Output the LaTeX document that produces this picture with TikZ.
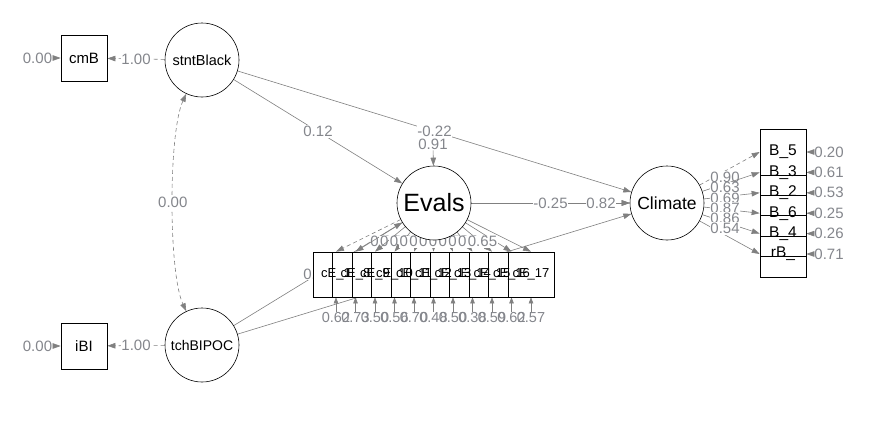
\documentclass[tikz,border=0pt]{standalone}
\usepackage{fontspec}
\setmainfont{Liberation Sans}
\usetikzlibrary{arrows.meta,calc}
\definecolor{edgegray}{RGB}{128,128,128}
\definecolor{lblgray}{RGB}{132,134,140}
\pgfdeclarelayer{canvas}
\pgfdeclarelayer{back}
\pgfsetlayers{canvas,back,main}

\begin{document}
\begin{tikzpicture}[x=1pt,y=-1pt,>={Triangle[length=8pt,width=5.5pt]},
    latent/.style={draw,circle,minimum size=74pt,inner sep=0pt,fill=white,line width=0.6pt},
    manifest/.style={draw,rectangle,minimum width=46pt,minimum height=46pt,inner sep=0pt,
        fill=white,line width=0.7pt,font={\fontsize{15}{15}\selectfont}},
    edgeline/.style={draw=edgegray,line width=0.6pt,->},
    fixedline/.style={edgeline,dash pattern=on 4pt off 3pt},
    est/.style={fill=white,text=lblgray,inner sep=0.8pt,font={\fontsize{15}{15}\selectfont}},
    smallest/.style={est,fill=none,font={\fontsize{14.5}{14.5}\selectfont}}]
\begin{pgfonlayer}{canvas}
\fill[white] (0,0) rectangle (878,432);
\end{pgfonlayer}

\node[manifest] (cmB) at (84,58) {cmB};
\node[manifest] (iBI) at (84,346) {iBI};
\node[latent,font={\fontsize{14.5}{15}\selectfont}] (stnt) at (202,60) {stntBlack};
\node[latent,font={\fontsize{14}{15}\selectfont}] (tch) at (202,345) {tchBIPOC};
\node[latent,font={\fontsize{25}{25}\selectfont}] (ev) at (434,203) {Evals};
\node[latent,font={\fontsize{17.5}{18}\selectfont}] (cl) at (667,203) {Climate};

\foreach \i in {0,...,10}
    \node[manifest,minimum height=45pt] (e\i) at ({336+19.5*\i},274.5) {};
\foreach \lab [count=\i from 0] in {cE\_1,cE\_8,cE\_9,cE\_10,cE\_11,cE\_12,cE\_13,cE\_14,cE\_15,cE\_16,cE\_17}
    \node[inner sep=0pt,font={\fontsize{13}{13}\selectfont}] (et\i) at ({336+19.5*\i},274.5) {\lab};

\foreach \k in {5,...,0}
    \node[manifest] (b\k) at (783,{152+20.4*\k}) {};
\foreach \lab [count=\k from 0] in {B\_5,B\_3,B\_2,B\_6,B\_4,rB\_}
    \node[inner sep=0pt,font={\fontsize{15.5}{16}\selectfont}] (bt\k) at (783,{152+20.4*\k}) {\lab};

\begin{pgfonlayer}{back}
\node[est] (cmBr) at (37.5,58) {0.00};
\node[est] (iBIr) at (37.5,346) {0.00};
\draw[edgeline] (cmBr) -- (cmB);
\draw[edgeline] (iBIr) -- (iBI);
\draw[fixedline] (stnt) -- node[est]{1.00} (cmB);
\draw[fixedline] (tch) -- node[est]{1.00} (iBI);
\draw[fixedline,<->] (stnt) to[bend right=25,looseness=0.5] node[est]{0.00} (tch);

\draw[edgeline] (stnt) -- node[est]{0.12} (ev);
\draw[edgeline] (tch) -- node[est]{0.05} (ev);
\draw[edgeline] (tch) -- node[est]{0.09} (cl);
\draw[edgeline] (stnt) -- node[est]{-0.22} (cl);
\node[est] (evr) at (433,144) {0.91};
\draw[edgeline] (evr) -- (ev);
\draw[edgeline] (ev) -- node[est]{-0.25} (cl);
\node[est] (clr) at (601,203) {0.82};
\draw[edgeline] (clr) -- (cl);

\foreach \st/\ld/\rs [count=\i from 0] in {fixedline/0.62/0.62,edgeline/0.52/0.73,
        edgeline/0.71/0.50,edgeline/0.66/0.56,edgeline/0.54/0.70,edgeline/0.72/0.48,
        edgeline/0.71/0.50,edgeline/0.79/0.38,edgeline/0.64/0.59,edgeline/0.61/0.62,
        edgeline/0.65/0.57}{
    \draw[\st] (ev) -- (e\i.north);
    \node[est,font={\fontsize{15}{15}\selectfont}] (el\i) at ($(ev)!.5!(e\i)+(0,3)$) {\ld};
    \node[smallest] (er\i) at ({336+19.5*\i},318) {\rs};
    \draw[edgeline,>={Triangle[length=6pt,width=4.5pt]}] (er\i) -- (e\i.south);
}

\foreach \st/\ld/\rs [count=\k from 0] in {fixedline/0.90/0.20,edgeline/0.63/0.61,
        edgeline/0.69/0.53,edgeline/0.87/0.25,edgeline/0.86/0.26,edgeline/0.54/0.71}{
    \draw[\st] (cl) -- (b\k.west);
    \node[est] (cll\k) at ($(cl)!.5!(b\k)$) {\ld};
    \node[est] (cr\k) at (829,{152+20.4*\k}) {\rs};
    \draw[edgeline] (cr\k) -- (b\k.east);
}
\end{pgfonlayer}
\end{tikzpicture}
\end{document}
